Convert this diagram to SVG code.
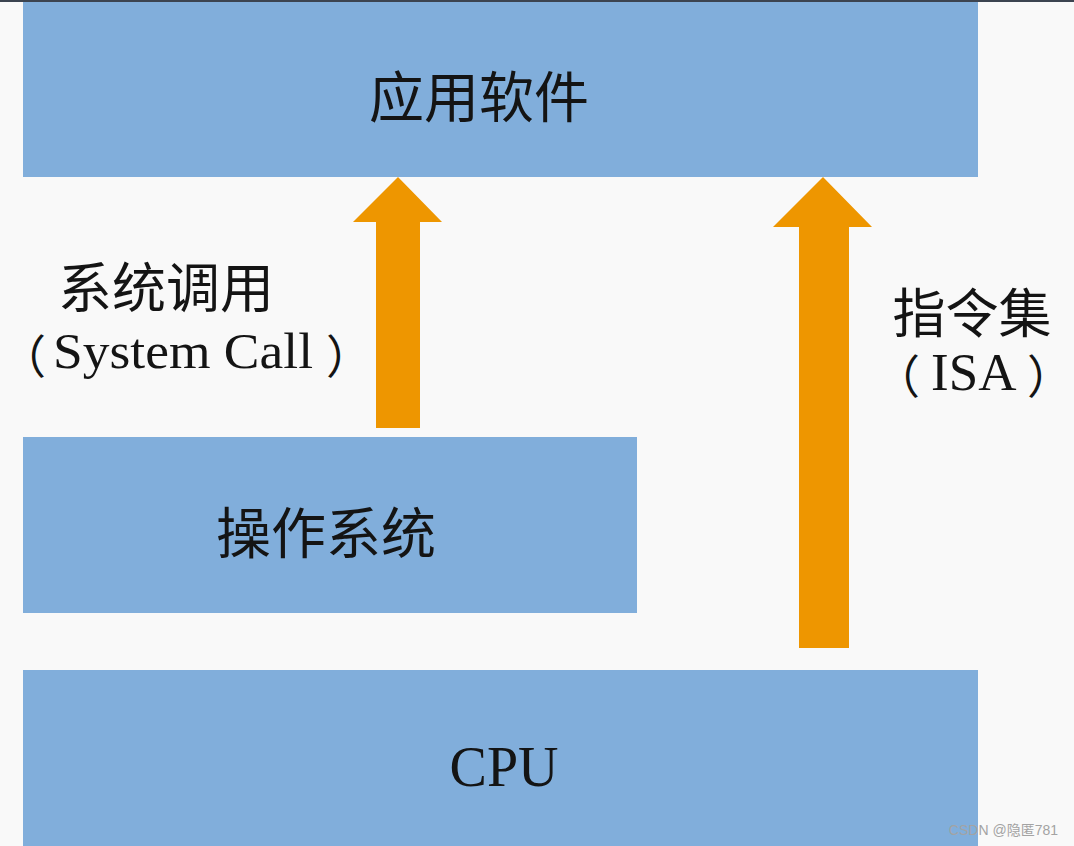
<svg xmlns="http://www.w3.org/2000/svg" width="1074" height="846" viewBox="0 0 1074 846">
  <style>
    .box { fill: #81aedb; }
    .arrow { fill: #ee9600; }
    .cjk { font-family: "Noto Sans CJK SC", sans-serif; fill: #141414; }
    .lat { font-family: "Liberation Serif", "Noto Sans CJK SC", serif; fill: #141414; }
    .par { font-family: "Noto Sans CJK SC", sans-serif; font-size: 46px; }
    .wm { font-family: "Liberation Sans", "Noto Sans CJK SC", sans-serif; fill: #a3a3a3; font-size: 14px; }
  </style>
  <rect x="0" y="0" width="1074" height="846" fill="#f9f9f9"/>
  <rect x="0" y="0" width="1074" height="2" fill="#3c4450"/>

  <g id="node-app">
    <rect class="box" x="23" y="2" width="955" height="175"/>
    <text class="cjk" x="479" y="117" font-size="55" text-anchor="middle">应用软件</text>
  </g>

  <g id="node-os">
    <rect class="box" x="23" y="437" width="614" height="176"/>
    <text class="cjk" x="326" y="553" font-size="55" text-anchor="middle">操作系统</text>
  </g>

  <g id="node-cpu">
    <rect class="box" x="23" y="670" width="955" height="176"/>
    <text class="lat" x="504" y="786" font-size="56" text-anchor="middle">CPU</text>
  </g>

  <g id="connectors">
    <polygon class="arrow" points="398,177 442,222 420,222 420,428 376,428 376,222 353,222"/>
    <polygon class="arrow" points="823,177 872,227 849,227 849,648 799,648 799,227 773,227"/>
  </g>

  <g id="label-syscall">
    <text class="cjk" x="166" y="308" font-size="54" text-anchor="middle">系统调用</text>
    <text class="lat" font-size="50" y="368"><tspan class="par" x="0" y="373">（</tspan><tspan x="53" y="368" textLength="260" lengthAdjust="spacingAndGlyphs">System Call</tspan><tspan class="par" x="326" y="373">）</tspan></text>
  </g>

  <g id="label-isa">
    <text class="cjk" x="972" y="333" font-size="53" text-anchor="middle">指令集</text>
    <text class="lat" font-size="53" y="390"><tspan class="par" x="874" y="393">（</tspan><tspan x="931" y="390">ISA</tspan><tspan class="par" x="1027" y="393">）</tspan></text>
  </g>

  <text class="wm" x="1058" y="835" text-anchor="end">CSDN @隐匿781</text>
</svg>
